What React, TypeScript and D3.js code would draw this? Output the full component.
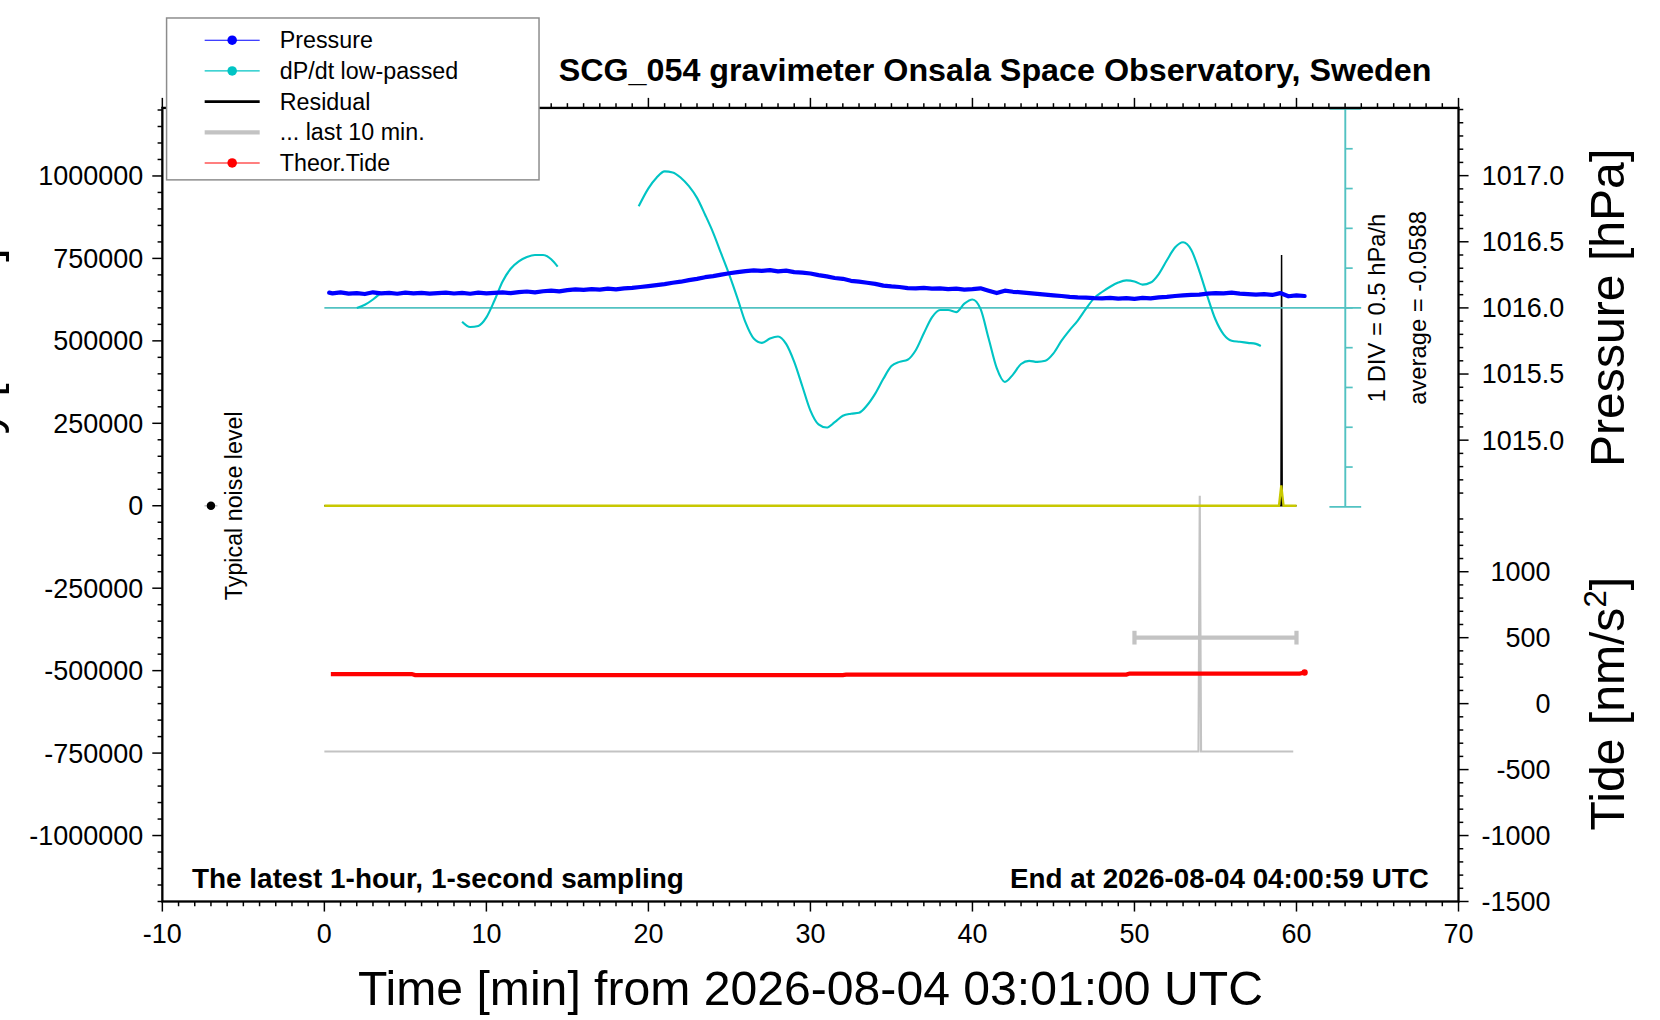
import { useEffect, useRef } from 'react'
import * as d3 from 'd3'

type Pt = [number, number]

// ── Values ─────────────────────────────────────────────────────────────────
// Pressure [hPa] vs time [min]
const PRESSURE: Pt[] = [
  [0.3, 1016.115], [0.5, 1016.11], [1.0, 1016.118], [1.5, 1016.108], [2.0, 1016.112],
  [2.5, 1016.105], [3.0, 1016.118], [3.5, 1016.11], [4.0, 1016.113], [4.5, 1016.107],
  [5.0, 1016.116], [5.5, 1016.11], [6.0, 1016.114], [6.5, 1016.108], [7.0, 1016.112],
  [7.5, 1016.116], [8.0, 1016.109], [8.5, 1016.113], [9.0, 1016.107], [9.5, 1016.115],
  [10.0, 1016.11], [10.5, 1016.114], [11.0, 1016.118], [11.5, 1016.112], [12.0, 1016.12],
  [12.5, 1016.124], [13.0, 1016.118], [13.5, 1016.126], [14.0, 1016.13], [14.5, 1016.125],
  [15.0, 1016.134], [15.5, 1016.14], [16.0, 1016.136], [16.5, 1016.142], [17.0, 1016.138],
  [17.5, 1016.145], [18.0, 1016.14], [18.5, 1016.148], [19.0, 1016.152], [19.5, 1016.158],
  [20.0, 1016.165], [20.5, 1016.172], [21.0, 1016.18], [21.5, 1016.19], [22.0, 1016.198],
  [22.5, 1016.21], [23.0, 1016.22], [23.5, 1016.232], [24.0, 1016.24], [24.5, 1016.252],
  [25.0, 1016.262], [25.5, 1016.27], [26.0, 1016.278], [26.5, 1016.283], [27.0, 1016.28],
  [27.5, 1016.286], [28.0, 1016.276], [28.5, 1016.282], [29.0, 1016.27], [29.5, 1016.266],
  [30.0, 1016.26], [30.5, 1016.248], [31.0, 1016.238], [31.5, 1016.226], [32.0, 1016.22],
  [32.5, 1016.205], [33.0, 1016.198], [33.5, 1016.19], [34.0, 1016.182], [34.5, 1016.168],
  [35.0, 1016.162], [35.5, 1016.158], [36.0, 1016.15], [36.5, 1016.148], [37.0, 1016.152],
  [37.5, 1016.146], [38.0, 1016.148], [38.5, 1016.142], [39.0, 1016.145], [39.5, 1016.138],
  [40.0, 1016.142], [40.5, 1016.148], [41.0, 1016.13], [41.5, 1016.112], [42.0, 1016.13],
  [42.5, 1016.122], [43.0, 1016.118], [43.5, 1016.112], [44.0, 1016.106], [44.5, 1016.1],
  [45.0, 1016.095], [45.5, 1016.09], [46.0, 1016.084], [46.5, 1016.08], [47.0, 1016.078],
  [47.5, 1016.074], [48.0, 1016.072], [48.5, 1016.076], [49.0, 1016.07], [49.5, 1016.074],
  [50.0, 1016.068], [50.5, 1016.076], [51.0, 1016.072], [51.5, 1016.08], [52.0, 1016.084],
  [52.5, 1016.09], [53.0, 1016.094], [53.5, 1016.098], [54.0, 1016.1], [54.5, 1016.108],
  [55.0, 1016.112], [55.5, 1016.11], [56.0, 1016.115], [56.5, 1016.108], [57.0, 1016.104],
  [57.5, 1016.1], [58.0, 1016.104], [58.5, 1016.098], [59.0, 1016.112], [59.5, 1016.088],
  [60.0, 1016.094], [60.5, 1016.09],
]

// dP/dt low-passed [hPa/h], drawn in three pieces (gaps in the record)
const DPDT_AVERAGE = -0.0588
const DPDT_DIV = 0.5 // hPa/h per division
const DPDT_SEG_1: Pt[] = [[2.0, -0.059], [2.5, -0.019], [3.0, 0.047], [3.4, 0.114]]
const DPDT_SEG_2: Pt[] = [
  [8.5, -0.232], [9.0, -0.298], [9.5, -0.285], [10.0, -0.178], [10.5, 0.034],
  [11.0, 0.274], [11.5, 0.433], [12.0, 0.526], [12.5, 0.58], [13.0, 0.606],
  [13.5, 0.606], [14.0, 0.553], [14.4, 0.46],
]
const DPDT_SEG_3: Pt[] = [
  [19.4, 1.218], [20.0, 1.444], [20.5, 1.577], [21.0, 1.657], [21.5, 1.644],
  [22.0, 1.577], [22.5, 1.471], [23.0, 1.324], [23.5, 1.112], [24.0, 0.885],
  [24.5, 0.619], [25.0, 0.353], [25.5, 0.061], [26.0, -0.245], [26.5, -0.444],
  [27.0, -0.498], [27.5, -0.444], [28.0, -0.418], [28.5, -0.511], [29.0, -0.737],
  [29.5, -1.043], [30.0, -1.349], [30.5, -1.522], [31.0, -1.562], [31.5, -1.495],
  [32.0, -1.415], [32.5, -1.389], [33.0, -1.376], [33.5, -1.282], [34.0, -1.136],
  [34.5, -0.95], [35.0, -0.79], [35.5, -0.737], [36.0, -0.71], [36.5, -0.591],
  [37.0, -0.378], [37.5, -0.178], [38.0, -0.085], [38.5, -0.085], [39.0, -0.112],
  [39.5, -0.006], [40.0, 0.047], [40.5, -0.072], [41.0, -0.444], [41.5, -0.817],
  [42.0, -0.99], [42.5, -0.897], [43.0, -0.764], [43.5, -0.724], [44.0, -0.737],
  [44.5, -0.724], [45.0, -0.631], [45.5, -0.471], [46.0, -0.338], [46.5, -0.218],
  [47.0, -0.072], [47.5, 0.061], [48.0, 0.141], [48.5, 0.207], [49.0, 0.26],
  [49.5, 0.287], [50.0, 0.274], [50.5, 0.234], [51.0, 0.26], [51.5, 0.367],
  [52.0, 0.54], [52.5, 0.7], [53.0, 0.766], [53.5, 0.673], [54.0, 0.407],
  [54.5, 0.088], [55.0, -0.205], [55.5, -0.391], [56.0, -0.471], [56.5, -0.484],
  [57.0, -0.498], [57.5, -0.511], [57.8, -0.537],
]

// Theoretical tide [nm/s²]
const TIDE: Pt[] = [
  [0.4, 224], [5.4, 224], [5.6, 216], [32.0, 216], [32.2, 220],
  [49.5, 220], [49.7, 228], [60.2, 228], [60.5, 236],
]

// Residual [nm/s²] (raw, black) and its low-passed trace (yellow)
const RESIDUAL: Pt[] = [[0, 0], [59.04, 0], [59.08, 760000], [59.12, 0], [60, 0]]
const RESIDUAL_LP: Pt[] = [[0, 0], [58.92, 0], [59.06, 62000], [59.2, 0], [60, 0]]

// ... last 10 min (grey), with its spread bar
const LAST_10_MIN: Pt[] = [[0, -745000], [53.95, -745000], [54.03, 30000], [54.11, -745000], [59.8, -745000]]
const LAST_10_SPREAD = { from: 50, to: 60, level: -400000 }

const NOISE = { t: -7, value: 0, halfWidth: 0.4 }

const X_TICKS = [-10, 0, 10, 20, 30, 40, 50, 60, 70]
const LEFT_TICKS = [-1000000, -750000, -500000, -250000, 0, 250000, 500000, 750000, 1000000]
const PRESSURE_TICKS = [1015.0, 1015.5, 1016.0, 1016.5, 1017.0]
const TIDE_TICKS = [-1500, -1000, -500, 0, 500, 1000]

const LEGEND_LABELS = ['Pressure', 'dP/dt low-passed', 'Residual', '... last 10 min.', 'Theor.Tide']

const FONT = '"Liberation Sans", Arial, Helvetica, sans-serif'
const CYAN = '#00c4c4'
const CYAN_AXIS = '#52c2c2'
const GREY = '#c3c3c3'

export default function App() {
  const svgRef = useRef<SVGSVGElement>(null)

  useEffect(() => {
    const svg = d3.select(svgRef.current)
    svg.selectAll('*').remove()

    const L = 153, R = 1378, T = 102, B = 852
    const x = d3.scaleLinear().domain([-10, 70]).range([L, R])
    const yL = d3.scaleLinear().domain([-1200000, 1206300]).range([B, T])
    const yP = d3.scaleLinear().domain([1011.512, 1017.512]).range([B, T])
    const yT = d3.scaleLinear().domain([-1500, 4516]).range([B, T])
    const yD = d3.scaleLinear()
      .domain([DPDT_AVERAGE - 5 * DPDT_DIV, DPDT_AVERAGE + 5 * DPDT_DIV])
      .range([479, 103])

    const g = svg.append('g').attr('font-family', FONT)
    g.append('rect').attr('width', 1568).attr('height', 964).attr('fill', '#fff')

    const tick = (x1: number, y1: number, x2: number, y2: number, w = 1.4) =>
      g.append('line').attr('x1', x1).attr('y1', y1).attr('x2', x2).attr('y2', y2)
        .attr('stroke', '#000').attr('stroke-width', w)

    // ── ticks ──
    d3.range(-10, 71, 1).forEach((v) => {
      const major = X_TICKS.includes(v)
      const len = major ? 9.5 : 4.5
      tick(x(v), B, x(v), B + len)
      tick(x(v), T, x(v), T - len)
    })
    X_TICKS.forEach((v) => {
      g.append('text').attr('x', x(v)).attr('y', 891).attr('text-anchor', 'middle')
        .attr('font-size', 25.5).text(v)
    })

    d3.range(-1200000, 1200001, 50000).forEach((v) => {
      const major = LEFT_TICKS.includes(v)
      tick(L, yL(v), L - (major ? 9.5 : 4.5), yL(v))
    })
    LEFT_TICKS.forEach((v) => {
      g.append('text').attr('x', 135).attr('y', yL(v)).attr('dy', '0.35em')
        .attr('text-anchor', 'end').attr('font-size', 25.5).text(v)
    })

    d3.range(10146, 10176).forEach((k) => {
      const v = k / 10
      const major = PRESSURE_TICKS.some((p) => Math.abs(p - v) < 1e-6)
      tick(R, yP(v), R + (major ? 9.5 : 4.5), yP(v))
    })
    PRESSURE_TICKS.forEach((v) => {
      g.append('text').attr('x', 1478).attr('y', yP(v)).attr('dy', '0.35em')
        .attr('text-anchor', 'end').attr('font-size', 25.5).text(v.toFixed(1))
    })

    d3.range(-1500, 1401, 100).forEach((v) => {
      const major = TIDE_TICKS.includes(v)
      tick(R, yT(v), R + (major ? 9.5 : 4.5), yT(v))
    })
    TIDE_TICKS.forEach((v) => {
      g.append('text').attr('x', 1465).attr('y', yT(v)).attr('dy', '0.35em')
        .attr('text-anchor', 'end').attr('font-size', 25.5).text(v)
    })

    const lineL = d3.line<Pt>().x((d) => x(d[0])).y((d) => yL(d[1]))

    // ── last 10 min (grey) ──
    g.append('path').attr('d', lineL(LAST_10_MIN)).attr('fill', 'none')
      .attr('stroke', GREY).attr('stroke-width', 2)
    const sy = yL(LAST_10_SPREAD.level)
    g.append('line').attr('x1', x(LAST_10_SPREAD.from)).attr('x2', x(LAST_10_SPREAD.to))
      .attr('y1', sy).attr('y2', sy).attr('stroke', GREY).attr('stroke-width', 4)
    ;[LAST_10_SPREAD.from, LAST_10_SPREAD.to].forEach((v) => {
      g.append('line').attr('x1', x(v)).attr('x2', x(v)).attr('y1', sy - 6.5).attr('y2', sy + 6.5)
        .attr('stroke', GREY).attr('stroke-width', 4)
    })

    // ── theoretical tide ──
    g.append('path')
      .attr('d', d3.line<Pt>().x((d) => x(d[0])).y((d) => yT(d[1]))(TIDE))
      .attr('fill', 'none').attr('stroke', '#ff0000').attr('stroke-width', 4)
    const lastTide = TIDE[TIDE.length - 1]
    g.append('circle').attr('cx', x(lastTide[0])).attr('cy', yT(lastTide[1])).attr('r', 3)
      .attr('fill', '#ff0000')

    // ── residual ──
    g.append('path').attr('d', lineL(RESIDUAL)).attr('fill', 'none')
      .attr('stroke', '#000').attr('stroke-width', 1.4)
    g.append('path').attr('d', lineL(RESIDUAL_LP)).attr('fill', 'none')
      .attr('stroke', '#c8c800').attr('stroke-width', 2.2)

    // ── dP/dt scale bar + baseline ──
    const barX = 1271
    const y0 = yD(DPDT_AVERAGE)
    g.append('line').attr('x1', x(0)).attr('x2', barX + 15).attr('y1', y0).attr('y2', y0)
      .attr('stroke', CYAN_AXIS).attr('stroke-width', 1.6)
    g.append('line').attr('x1', barX).attr('x2', barX)
      .attr('y1', yD.range()[0]).attr('y2', yD.range()[1])
      .attr('stroke', CYAN_AXIS).attr('stroke-width', 1.8)
    d3.range(-5, 6).forEach((k) => {
      const yy = yD(DPDT_AVERAGE + k * DPDT_DIV)
      const cap = Math.abs(k) === 5
      g.append('line').attr('x1', cap ? barX - 15 : barX).attr('x2', cap ? barX + 15 : barX + 7)
        .attr('y1', yy).attr('y2', yy).attr('stroke', CYAN_AXIS).attr('stroke-width', 1.6)
    })
    const lineD = d3.line<Pt>().x((d) => x(d[0])).y((d) => yD(d[1])).curve(d3.curveMonotoneX)
    ;[DPDT_SEG_1, DPDT_SEG_2, DPDT_SEG_3].forEach((seg) => {
      g.append('path').attr('d', lineD(seg)).attr('fill', 'none')
        .attr('stroke', CYAN).attr('stroke-width', 2)
    })

    // ── pressure ──
    g.append('path')
      .attr('d', d3.line<Pt>().x((d) => x(d[0])).y((d) => yP(d[1]))(PRESSURE))
      .attr('fill', 'none').attr('stroke', '#0000ff').attr('stroke-width', 4)
      .attr('stroke-linejoin', 'round').attr('stroke-linecap', 'round')

    // ── typical noise level ──
    g.append('line').attr('x1', x(NOISE.t - NOISE.halfWidth)).attr('x2', x(NOISE.t + NOISE.halfWidth))
      .attr('y1', yL(NOISE.value)).attr('y2', yL(NOISE.value)).attr('stroke', GREY).attr('stroke-width', 1.5)
    g.append('circle').attr('cx', x(NOISE.t)).attr('cy', yL(NOISE.value)).attr('r', 4).attr('fill', '#000')
    g.append('text').attr('transform', `translate(228,${yL(0)}) rotate(-90)`)
      .attr('text-anchor', 'middle').attr('font-size', 22).text('Typical noise level')

    // ── frame ──
    g.append('rect').attr('x', L).attr('y', T).attr('width', R - L).attr('height', B - T)
      .attr('fill', 'none').attr('stroke', '#000').attr('stroke-width', 2.2)

    // ── dP/dt annotations ──
    g.append('text').attr('transform', `translate(1309,${y0}) rotate(-90)`)
      .attr('text-anchor', 'middle').attr('font-size', 22.5).text(`1 DIV = ${DPDT_DIV} hPa/h`)
    g.append('text').attr('transform', `translate(1347,${y0}) rotate(-90)`)
      .attr('text-anchor', 'middle').attr('font-size', 22.5).text(`average = ${DPDT_AVERAGE}`)

    // ── titles ──
    g.append('text').attr('x', 940).attr('y', 77).attr('text-anchor', 'middle')
      .attr('font-size', 30.5).attr('font-weight', 'bold')
      .text('SCG_054 gravimeter Onsala Space Observatory, Sweden')
    g.append('text').attr('x', 181).attr('y', 839).attr('font-size', 26.4).attr('font-weight', 'bold')
      .text('The latest 1-hour, 1-second sampling')
    g.append('text').attr('x', 1350).attr('y', 839).attr('text-anchor', 'end')
      .attr('font-size', 26.3).attr('font-weight', 'bold')
      .text('End at 2026-08-04 04:00:59 UTC')
    g.append('text').attr('x', (L + R) / 2).attr('y', 950).attr('text-anchor', 'middle')
      .attr('font-size', 45.5).text('Time [min] from 2026-08-04 03:01:00 UTC')

    const unitLabel = (tx: number, ty: number, head: string) => {
      const t = g.append('text').attr('transform', `translate(${tx},${ty}) rotate(-90)`)
        .attr('text-anchor', 'middle').attr('font-size', 45.5)
      t.append('tspan').text(`${head} [nm/s`)
      t.append('tspan').attr('dy', -17).attr('font-size', 29.5).text('2')
      t.append('tspan').attr('dy', 17).text(']')
    }
    unitLabel(1534, yT(0), 'Tide')
    unitLabel(-1, yL(0), 'Residual Gravity')
    g.append('text').attr('transform', `translate(1534,${yP(1016)}) rotate(-90)`)
      .attr('text-anchor', 'middle').attr('font-size', 45.5).text('Pressure [hPa]')

    // ── legend ──
    g.append('rect').attr('x', 157).attr('y', 17).attr('width', 352).attr('height', 153)
      .attr('fill', '#fff').attr('stroke', '#8c8c8c').attr('stroke-width', 1.4)
    const legendStyle = [
      { color: '#0000ff', width: 1, dot: true },
      { color: CYAN, width: 1, dot: true },
      { color: '#000', width: 2.6, dot: false },
      { color: GREY, width: 4, dot: false },
      { color: '#ff0000', width: 1, dot: true },
    ]
    LEGEND_LABELS.forEach((label, i) => {
      const yy = 38 + i * 29
      const s = legendStyle[i]
      g.append('line').attr('x1', 193).attr('x2', 245).attr('y1', yy).attr('y2', yy)
        .attr('stroke', s.color).attr('stroke-width', s.width)
      if (s.dot) g.append('circle').attr('cx', 219).attr('cy', yy).attr('r', 4.5).attr('fill', s.color)
      g.append('text').attr('x', 264).attr('y', yy).attr('dy', '0.35em').attr('font-size', 22).text(label)
    })
  }, [])

  return (
    <div style={{ position: 'absolute', left: 0, top: 0, width: 1660, height: 1020, background: '#fff' }}>
      <svg ref={svgRef} width={1660} height={1020} viewBox="0 0 1568 964" style={{ display: 'block' }} />
    </div>
  )
}
